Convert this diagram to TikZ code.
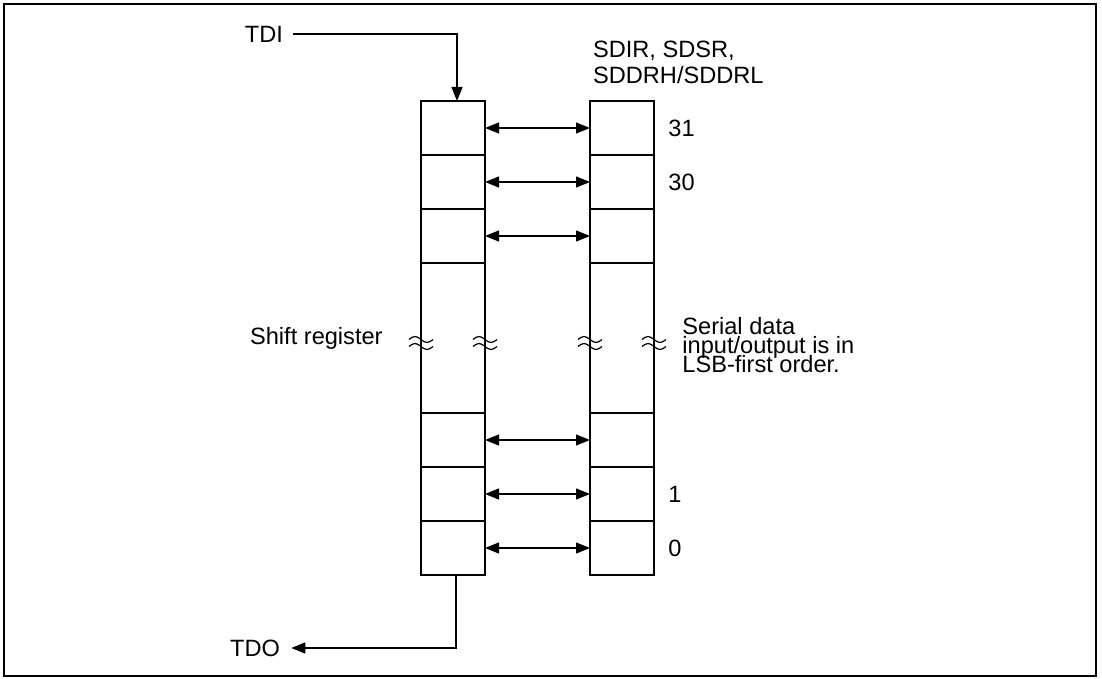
\documentclass[tikz,border=0pt]{standalone}
\usepackage{fontspec}
\setmainfont{Liberation Sans}
\usetikzlibrary{arrows.meta, positioning}
\tikzset{
  arrowD/.style={-{Triangle[length=7pt, width=5.5pt]}, line width=0.6pt},
  arrowB/.style={{Triangle[length=7pt, width=5.5pt]}-{Triangle[length=7pt, width=5.5pt]}, line width=0.6pt},
  cellA/.style={rectangle, draw, line width=0.7pt, minimum width=32pt,
                minimum height=27pt, inner sep=0pt, outer sep=0pt},
  cellLong/.style={cellA, minimum height=75pt},
  labelA/.style={inner sep=0pt, align=left},
  breakmark/.pic={
    \foreach \dy in {-3.5,3.5}
      \draw[line width=0.6pt] (-12,\dy) sin (-6,\dy-3) cos (0,\dy) sin (6,\dy+3) cos (12,\dy);
  },
}

\begin{document}
\begin{tikzpicture}[x=0.5pt, y=-0.5pt, node distance=0pt, font=\fontsize{11.8}{13}\selectfont]
    \useasboundingbox (0,0) rectangle (1102,679);
    \draw[line width=1pt] (4,4) rectangle (1096,676);
    % shift register
    \node[cellA] (s31) at (453,128) {};
    \node[cellA, below=of s31] (s30) {};
    \node[cellA, below=of s30] (s29) {};
    \node[cellLong, below=of s29] (smid) {};
    \node[cellA, below=of smid] (s2) {};
    \node[cellA, below=of s2] (s1) {};
    \node[cellA, below=of s1] (s0) {};
    % data registers
    \node[cellA, right=52.5pt of s31] (d31) {};
    \node[cellA, below=of d31] (d30) {};
    \node[cellA, below=of d30] (d29) {};
    \node[cellLong, below=of d29] (dmid) {};
    \node[cellA, below=of dmid] (d2) {};
    \node[cellA, below=of d2] (d1) {};
    \node[cellA, below=of d1] (d0) {};
    \foreach \n in {31,30,29,2,1,0}
      \draw[arrowB] (s\n.east) -- (d\n.west);
    \foreach \c in {smid.west, smid.east, dmid.west, dmid.east}
      \path (\c) ++(0,5) pic {breakmark};
    % labels
    \node[labelA, anchor=north west] (regs) at (592.7,41) {SDIR, SDSR,\\SDDRH/SDDRL};
    \node[labelA, right=7pt of d31] (n31) {31};
    \node[labelA, right=7pt of d30] (n30) {30};
    \node[labelA, right=7pt of d1] (n1) {1};
    \node[labelA, right=7pt of d0] (n0) {0};
    \node[labelA, left=19pt of smid] (shreg) {Shift register};
    \node[labelA, right=14pt of dmid, yshift=-3.5pt,
          font={\fontsize{11.8}{9.5}\selectfont\lineskiplimit=-10pt}] (order)
          {Serial data\\input/output is in\\LSB-first order.};
    % TDI / TDO
    \node[inner sep=5pt] (tdi) at (264,34) {TDI};
    \node[inner sep=5.5pt] (tdo) at (255,648) {TDO};
    \draw[arrowD] (tdi.east) -| ([xshift=2pt]s31.north);
    \draw[arrowD] ([xshift=1.5pt]s0.south) |- (tdo.east);
\end{tikzpicture}
\end{document}
